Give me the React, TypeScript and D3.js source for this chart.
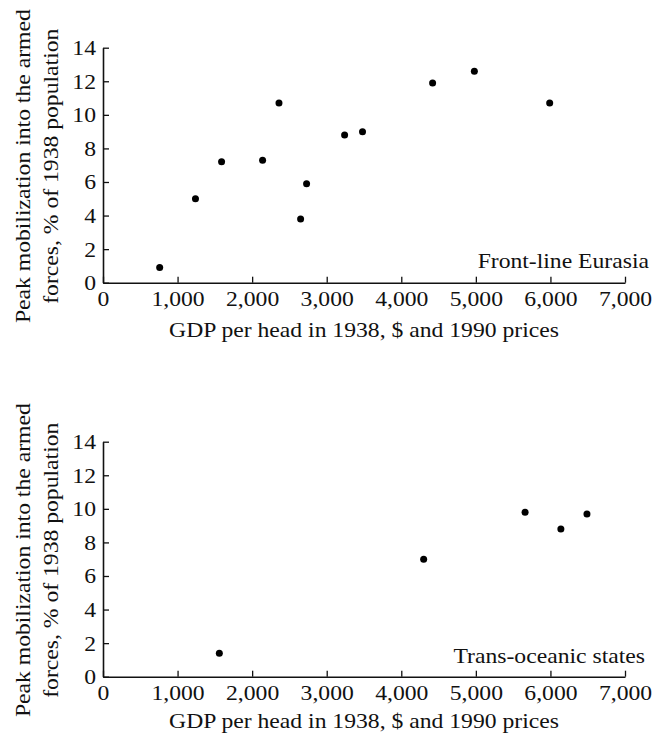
import React, { useEffect, useRef } from "react";
import * as d3 from "d3";

// tick values
const xTicks = [0, 1000, 2000, 3000, 4000, 5000, 6000, 7000];
const yTicks = [0, 2, 4, 6, 8, 10, 12, 14];

// Front-line Eurasia: GDP per head (1990 $) and peak mobilization (% of 1938 pop.)
const eurasiaGdp = [760, 1240, 1590, 2140, 2360, 2650, 2730, 3240, 3480, 4420, 4980, 5990];
const eurasiaMob = [0.9, 5.0, 7.2, 7.3, 10.7, 3.8, 5.9, 8.8, 9.0, 11.9, 12.6, 10.7];

// Trans-oceanic states
const oceanicGdp = [1560, 4300, 5660, 6140, 6490];
const oceanicMob = [1.4, 7.0, 9.8, 8.8, 9.7];

const xLabel = "GDP per head in 1938, $ and 1990 prices";
const yLabel1 = "Peak mobilization into the armed";
const yLabel2 = "forces, % of 1938 population";

const WIDTH = 652;
const HEIGHT = 743;
const FONT = "'Liberation Serif', 'Times New Roman', Times, serif";
const FS = 21.5;
const SX = 1.1; // glyphs in the source are a bit wide
const INK = "#111";

const panels = [
    { name: "Front-line Eurasia", gdp: eurasiaGdp, mob: eurasiaMob, top: 47.7, bottom: 282.7, labelRight: 649, labelY: 268, xLabelY: 337 },
    { name: "Trans-oceanic states", gdp: oceanicGdp, mob: oceanicMob, top: 441.7, bottom: 676.7, labelRight: 645, labelY: 663, xLabelY: 728 },
];

const App = () => {
    const svgRef = useRef<SVGSVGElement | null>(null);

    useEffect(() => {
        const svg = d3.select(svgRef.current);
        svg.selectAll("*").remove();

        const x = d3.scaleLinear().domain([0, 7000]).range([103, 625]);

        panels.forEach(p => {
            const y = d3.scaleLinear().domain([0, 14]).range([p.bottom, p.top]);
            const g = svg.append("g");

            // x axis, ticks pointing inward
            const gx = g.append("g")
                .attr("transform", `translate(0,${p.bottom})`)
                .call(d3.axisBottom(x)
                    .tickValues(xTicks)
                    .tickSizeInner(-6)
                    .tickSizeOuter(0)
                    .tickPadding(8.5)
                    .tickFormat(d => d3.format(",")(d as number)));
            gx.attr("font-family", FONT).attr("font-size", FS);
            gx.select(".domain").attr("stroke", INK).attr("stroke-width", 1.6);
            gx.selectAll(".tick line").attr("stroke", INK).attr("stroke-width", 1.3);
            gx.selectAll(".tick text").attr("fill", INK).attr("transform", `scale(${SX},1)`);

            // y axis
            const gy = g.append("g")
                .attr("transform", `translate(${x(0)},0)`)
                .call(d3.axisLeft(y)
                    .tickValues(yTicks)
                    .tickSizeInner(-6)
                    .tickSizeOuter(0)
                    .tickPadding(7));
            gy.attr("font-family", FONT).attr("font-size", FS);
            gy.select(".domain").attr("stroke", INK).attr("stroke-width", 1.6);
            gy.selectAll(".tick line").attr("stroke", INK).attr("stroke-width", 1.3);
            gy.selectAll(".tick text")
                .attr("fill", INK)
                .attr("x", -7 / SX)
                .attr("transform", `scale(${SX},1)`);

            // points
            g.append("g")
                .selectAll("circle")
                .data(p.gdp.map((v, i) => ({ gdp: v, mob: p.mob[i] })))
                .enter()
                .append("circle")
                .attr("cx", d => x(d.gdp))
                .attr("cy", d => y(d.mob))
                .attr("r", 3.5)
                .attr("fill", "#000");

            const txt = (s: string, tx: number, ty: number, anchor: string, rot = 0) =>
                g.append("text")
                    .attr("transform", `translate(${tx},${ty})${rot ? ` rotate(${rot})` : ""} scale(${SX},1)`)
                    .attr("text-anchor", anchor)
                    .attr("font-family", FONT)
                    .attr("font-size", FS)
                    .attr("fill", INK)
                    .text(s);

            // panel label
            txt(p.name, p.labelRight, p.labelY, "end");

            // axis titles
            txt(xLabel, (x(0) + x(7000)) / 2, p.xLabelY, "middle");
            const cy = (p.top + p.bottom) / 2 + 1;
            txt(yLabel1, 30, cy, "middle", -90);
            txt(yLabel2, 58, cy, "middle", -90);
        });
    }, []);

    return (
        <svg
            ref={svgRef}
            width={WIDTH}
            height={HEIGHT}
            style={{ position: "absolute", left: 0, top: 0, background: "#fff" }}
        />
    );
};

export default App;
